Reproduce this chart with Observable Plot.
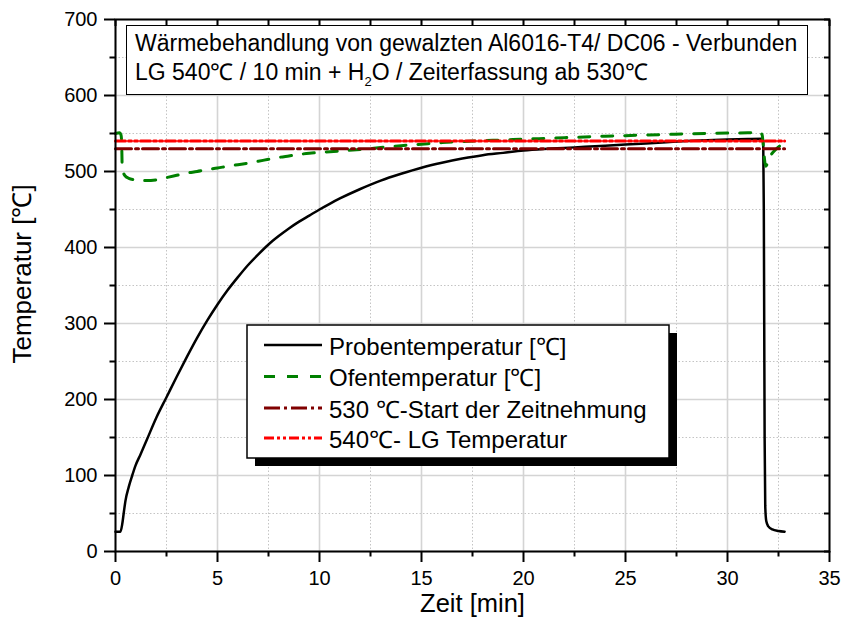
<!DOCTYPE html>
<html><head><meta charset="utf-8">
<script src="https://cdn.jsdelivr.net/npm/d3@7"></script>
<script src="https://cdn.jsdelivr.net/npm/@observablehq/plot@0.6"></script>
<style>
body{margin:0;background:#fff;}
#wrap{position:relative;width:844px;height:631px;font-family:"Liberation Sans",Arial,sans-serif;}
#title{position:absolute;left:126px;top:25px;width:682px;height:70px;box-sizing:border-box;border:1px solid #000;background:#fff;font-size:23px;line-height:29px;padding:3px 0 0 8px;color:#000;white-space:nowrap;}
#title sub{font-size:13px;vertical-align:-6px;line-height:0;}
#overlay{position:absolute;left:0;top:0;pointer-events:none;}
</style></head><body><div id="wrap"></div>
<script>
// ---- data ----
const probeTime = [0, 0.24, 0.33, 0.41, 0.49, 0.65, 0.82, 0.98, 1.23, 1.52, 2.0, 2.5, 3.0, 3.5, 4.0, 4.5, 5.0, 5.5, 6.0, 6.5, 7.0, 7.5, 8.0, 8.5, 9.0, 9.5, 10, 10.5, 11, 12, 13, 14, 15, 16, 17, 18, 19, 20, 21, 22, 23, 24, 25, 26, 27, 28, 29, 30, 31, 31.7, 31.75, 31.78, 31.8, 31.82, 31.85, 31.9, 32.0, 32.2, 32.5, 32.8];
const probeTemp = [26, 26, 36, 52, 67, 85, 100, 113, 128, 146, 176, 203, 230, 256, 281, 304, 325, 344, 361, 377, 391, 404, 415, 425, 434, 442, 450, 457.5, 464.5, 477, 488, 497, 505, 511.5, 517, 521.5, 524.5, 527.5, 529.5, 531, 532.5, 534, 535.5, 537, 538.5, 540, 541, 542, 542.7, 543, 541, 450, 300, 150, 60, 40, 33, 29, 27, 26];

const ofenTime = [0, 0.2, 0.27, 0.3, 0.33, 0.45, 0.65, 1.0, 1.5, 2.0, 2.5, 3.0, 3.5, 4.0, 4.5, 5.0, 5.5, 6.0, 6.5, 7.0, 7.5, 8.0, 8.5, 9.0, 9.5, 10, 11, 12, 13, 14, 15, 16, 17, 18, 19, 20, 21, 22, 23, 24, 25, 26, 27, 28, 29, 30, 31, 31.6, 31.7, 31.75, 31.8, 31.87, 31.95, 32.1, 32.4, 32.8];
const ofenTemp = [550, 551, 548, 540, 505, 495, 491, 489, 488, 489, 492, 495, 498, 500, 502.5, 504.5, 507, 509, 511, 513.5, 516, 518.5, 520.5, 522.5, 524, 525, 527, 529, 531.5, 534, 536, 538, 539.5, 540.5, 541.5, 542.5, 543.5, 544.5, 545.5, 546.5, 547.2, 548, 548.7, 549.4, 550, 550.5, 551, 551.5, 548, 535, 520, 507, 510, 520, 530, 537];

const refTime = [0, 32.8];
const ref530 = [530, 530];
const ref540 = [540, 540];

const xMajor = [0, 5, 10, 15, 20, 25, 30, 35];
const xMinor = [2.5, 7.5, 12.5, 17.5, 22.5, 27.5, 32.5];
const yMajor = [0, 100, 200, 300, 400, 500, 600, 700];
const yMinor = [50, 150, 250, 350, 450, 550, 650];

const seriesNames = ["Probentemperatur [\u2103]", "Ofentemperatur [\u2103]", "530 \u2103-Start der Zeitnehmung", "540\u2103- LG Temperatur"];
const xLabel = "Zeit [min]";
const yLabel = "Temperatur [\u2103]";

// ---- tables ----
const probe = probeTime.map((t, i) => ({t, v: probeTemp[i]}));
const ofen = ofenTime.map((t, i) => ({t, v: ofenTemp[i]}));
const l530 = refTime.map((t, i) => ({t, v: ref530[i]}));
const l540 = refTime.map((t, i) => ({t, v: ref540[i]}));

const styles = [
  {stroke: "#000000", strokeWidth: 2.5, dash: null},
  {stroke: "#008000", strokeWidth: 3, dash: "11,12"},
  {stroke: "#800000", strokeWidth: 3, dash: "16,4,3,4"},
  {stroke: "#ff0000", strokeWidth: 3, dash: "10,3,3,3,3,3"}
];

const font = '"Liberation Sans", Arial, sans-serif';
const blank = () => "";

const plot = Plot.plot({
  width: 844, height: 631,
  marginLeft: 115, marginRight: 15, marginTop: 19, marginBottom: 80,
  x: {domain: [0, 35]},
  y: {domain: [0, 700]},
  style: {fontFamily: font, color: "#000", background: "#fff"},
  marks: [
    Plot.gridX(xMinor, {stroke: "#c4c4c4", strokeOpacity: 1, strokeWidth: 1, strokeDasharray: "1.5,2"}),
    Plot.gridY(yMinor, {stroke: "#c4c4c4", strokeOpacity: 1, strokeWidth: 1, strokeDasharray: "1.5,2"}),
    Plot.gridX(xMajor, {stroke: "#d4d4d4", strokeOpacity: 1, strokeWidth: 1.6}),
    Plot.gridY(yMajor, {stroke: "#d4d4d4", strokeOpacity: 1, strokeWidth: 1.6}),
    Plot.line(probe, {x: "t", y: "v", stroke: styles[0].stroke, strokeWidth: styles[0].strokeWidth, curve: "monotone-x"}),
    Plot.line(ofen, {x: "t", y: "v", stroke: styles[1].stroke, strokeWidth: styles[1].strokeWidth, strokeDasharray: styles[1].dash, curve: "monotone-x"}),
    Plot.line(l530, {x: "t", y: "v", stroke: styles[2].stroke, strokeWidth: styles[2].strokeWidth, strokeDasharray: styles[2].dash}),
    Plot.line(l540, {x: "t", y: "v", stroke: styles[3].stroke, strokeWidth: styles[3].strokeWidth, strokeDasharray: styles[3].dash}),
    Plot.frame({stroke: "#000", strokeWidth: 2}),
    Plot.axisX({ticks: xMajor, anchor: "bottom", tickSize: 11, tickPadding: 8, fontSize: 20, label: null, strokeWidth: 2}),
    Plot.axisX({ticks: xMinor, anchor: "bottom", tickSize: 5.5, tickFormat: blank, label: null, strokeWidth: 2}),
    Plot.axisX({ticks: xMajor.concat(xMinor), anchor: "top", tickSize: 6, dy: 6, tickFormat: blank, label: null, strokeWidth: 2}),
    Plot.axisY({ticks: yMajor, anchor: "left", tickSize: 11, tickPadding: 7, fontSize: 20, label: null, strokeWidth: 2}),
    Plot.axisY({ticks: yMinor, anchor: "left", tickSize: 5.5, tickFormat: blank, label: null, strokeWidth: 2}),
    Plot.axisY({ticks: yMajor.concat(yMinor), anchor: "right", tickSize: 6, dx: -6, tickFormat: blank, label: null, strokeWidth: 2}),
    Plot.text([xLabel], {frameAnchor: "bottom", dy: 60, fontSize: 25.5, text: d => d, fill: "#000"}),
    Plot.text([yLabel], {frameAnchor: "left", rotate: -90, dx: -93, dy: 78, fontSize: 26, text: d => d, fill: "#000"})
  ]
});

const wrap = document.getElementById("wrap");
wrap.appendChild(plot);

// title box
const title = document.createElement("div");
title.id = "title";
title.innerHTML = "<div>W\u00e4rmebehandlung von gewalzten Al6016-T4/ DC06 - Verbunden</div><div>LG 540\u2103 / 10 min + H<sub>2</sub>O / Zeiterfassung ab 530\u2103</div>";
wrap.appendChild(title);

// legend overlay
const ov = d3.select(wrap).append("svg").attr("id", "overlay").attr("width", 844).attr("height", 631);
const lg = {x: 247, y: 325, w: 422, h: 133, shadow: 8};
ov.append("rect").attr("x", lg.x + lg.shadow).attr("y", lg.y + lg.shadow).attr("width", lg.w).attr("height", lg.h).attr("fill", "#000");
ov.append("rect").attr("x", lg.x).attr("y", lg.y).attr("width", lg.w).attr("height", lg.h).attr("fill", "#fff").attr("stroke", "#000").attr("stroke-width", 1.5);
const rowY = [345, 376.5, 408, 438];
seriesNames.forEach((name, i) => {
  const s = styles[i];
  ov.append("line").attr("x1", 264).attr("x2", 322).attr("y1", rowY[i]).attr("y2", rowY[i])
    .attr("stroke", s.stroke).attr("stroke-width", s.strokeWidth).attr("stroke-dasharray", s.dash);
  ov.append("text").attr("x", 329).attr("y", rowY[i] + 9.5).attr("font-size", 24).attr("font-family", font).attr("fill", "#000").text(name);
});
</script></body></html>
